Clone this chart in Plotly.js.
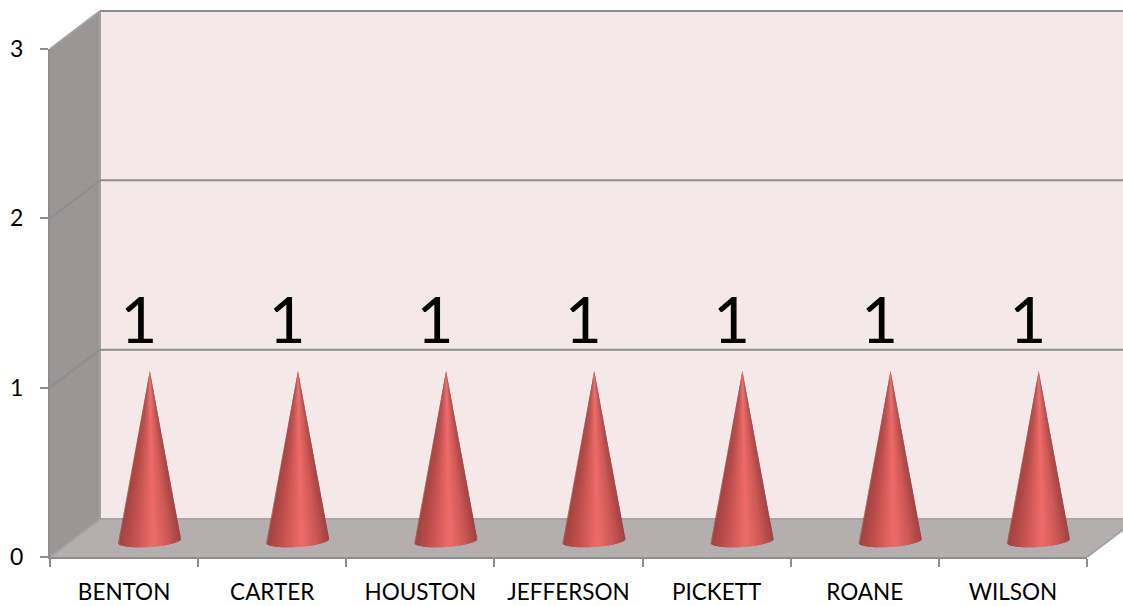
<!DOCTYPE html>
<html><head><meta charset="utf-8">
<script src="https://cdn.plot.ly/plotly-3.0.1.min.js"></script>
<style>html,body{margin:0;padding:0;background:#fff;overflow:hidden}</style></head>
<body><div id="chart" style="width:1123px;height:606px"></div>
<script>
const categories = ["BENTON","CARTER","HOUSTON","JEFFERSON","PICKETT","ROANE","WILSON"];
const values = [1,1,1,1,1,1,1];
const yTicks = [0,1,2,3];

// projection constants of the fake 3D box (in axis units)
const M = {l:50, r:36, t:49, b:49};
const W = 1123-M.l-M.r, H = 606-M.t-M.b;
const pxPerCat = W/categories.length, pxPerVal = H/3;
const depthX = 50, depthY = 38;
const px = v => v/W, py = v => v/H;

// cone geometry
const coneDX = 25.3/pxPerCat, coneBase = 16.5/pxPerVal, coneTip = 0.098;
const rx = 32/pxPerCat, ry = 6.5/pxPerVal, tilt = 2/pxPerVal;
const N = 48;
function shade(t){ // t in -1..1 across the cone
  const stops = [[-1,[160,66,64]],[-0.55,[190,78,76]],[0.12,[238,108,106]],[0.6,[205,88,86]],[1,[158,66,64]]];
  for(let i=0;i<stops.length-1;i++){
    const [a,ca]=stops[i],[b,cb]=stops[i+1];
    if(t<=b){const f=(t-a)/(b-a);return `rgb(${ca.map((c,k)=>Math.round(c+(cb[k]-c)*f)).join(",")})`;}
  }
  return "rgb(158,66,64)";
}
const traces = [];
for(let j=0;j<N;j++){
  // each strip runs one step further so the next one paints over the seam
  const th0 = Math.PI*(1-j/N), th1 = Math.PI*(1-Math.min(j+2,N)/N), thm = Math.PI*(1-(j+1)/N);
  const xs=[], ys=[];
  values.forEach((v,i)=>{
    const cx = i+coneDX;
    const c0=Math.cos(th0), c1=Math.cos(th1), cm=Math.cos(thm);
    xs.push(cx+0.003, cx+rx*c0, cx+rx*cm, cx+rx*c1, cx+0.003, null);
    ys.push(v+coneTip,
      coneBase+tilt*c0-ry*Math.sin(th0),
      coneBase+tilt*cm-ry*Math.sin(thm),
      coneBase+tilt*c1-ry*Math.sin(th1),
      v+coneTip, null);
  });
  const col = shade((Math.cos(th0)+Math.cos(thm))/2);
  traces.push({x:xs,y:ys,mode:"lines",fill:"toself",fillcolor:col,
    line:{color:col,width:0},hoverinfo:"skip",showlegend:false,cliponaxis:false});
}
// data labels
traces.push({x:values.map((v,i)=>i+0.1),y:values.map(v=>v+0.36),mode:"text",
  text:values.map(String),textposition:"middle center",
  textfont:{family:"Lato",size:64,color:"#000"},hoverinfo:"skip",showlegend:false,cliponaxis:false});

const grey="#8e8e8e";
const dx=px(depthX), dy=py(depthY), over=px(1160-50);
const shapes=[
  {type:"rect",xref:"paper",yref:"paper",x0:dx,x1:over,y0:dy,y1:1+dy,fillcolor:"#f4e8e9",line:{width:0},layer:"below"},
  {type:"path",xref:"paper",yref:"paper",path:`M0,0 L${dx},${dy} L${dx},${1+dy} L0,1 Z`,fillcolor:"#9b9595",line:{width:0},layer:"below"},
  {type:"path",xref:"paper",yref:"paper",path:`M0,0 L1,0 L${1+dx},${dy} L${dx},${dy} Z`,fillcolor:"#b5aeae",line:{width:0},layer:"below"},
  {type:"line",xref:"paper",yref:"paper",x0:dx,x1:dx,y0:dy,y1:1+dy,line:{color:"#a3a0a0",width:2},layer:"below"},
  {type:"line",xref:"paper",yref:"paper",x0:1,x1:1+dx,y0:0,y1:dy,line:{color:"#a3a0a0",width:2},layer:"below"},
  {type:"line",xref:"paper",yref:"paper",x0:0,x1:dx,y0:1,y1:1+dy,line:{color:"#a3a0a0",width:2},layer:"below"}
];
yTicks.forEach(t=>{
  const p=t/3;
  const c=t===0?"#a8a4a4":grey;
  shapes.push({type:"line",xref:"paper",yref:"paper",x0:dx,x1:over,y0:p+dy,y1:p+dy,line:{color:c,width:2},layer:"below"});
  if(t>0&&t<3) shapes.push({type:"line",xref:"paper",yref:"paper",x0:0,x1:dx,y0:p,y1:p+dy,line:{color:grey,width:2},layer:"below"});
  if(t===0) shapes.push({type:"line",xref:"paper",yref:"paper",x0:0,x1:dx,y0:0,y1:dy,line:{color:"#a3a0a0",width:2},layer:"below"});
});

const layout={
  width:1123,height:606,margin:M,paper_bgcolor:"#fff",plot_bgcolor:"rgba(0,0,0,0)",
  showlegend:false,shapes:shapes,
  font:{family:"Lato",color:"#000"},
  xaxis:{type:"linear",range:[-0.5,categories.length-0.5],tickmode:"array",
    tickvals:categories.map((c,i)=>i),ticktext:categories,ticks:"",
    tickfont:{family:"Lato",size:22.5,color:"#000"},ticklabelstandoff:14,
    showgrid:false,zeroline:false,showline:true,linecolor:grey,linewidth:2,
    minor:{tickmode:"linear",tick0:-0.5,dtick:1,ticks:"outside",ticklen:8,tickcolor:grey,tickwidth:2,showgrid:false}},
  yaxis:{type:"linear",range:[0,3],tickmode:"array",tickvals:yTicks,ticktext:yTicks.map(String),
    ticks:"outside",ticklen:8,tickcolor:grey,tickwidth:2,
    tickfont:{family:"Lato",size:23,color:"#000"},ticklabelstandoff:12,
    showgrid:false,zeroline:false,showline:true,linecolor:grey,linewidth:2}
};
Plotly.newPlot("chart",traces,layout,{displayModeBar:false,staticPlot:true});
</script></body></html>
